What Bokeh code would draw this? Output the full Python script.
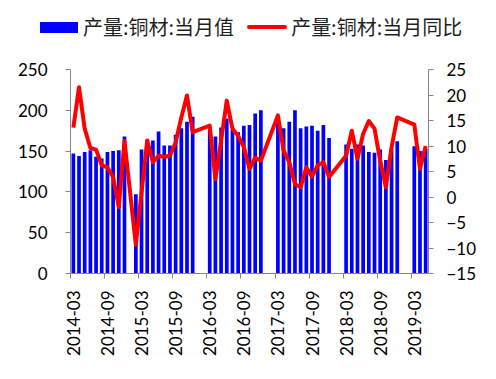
import math
from bokeh.plotting import figure
from bokeh.layouts import column
from bokeh.models import (Range1d, LinearAxis, FixedTicker, ColumnDataSource, Div)
from bokeh.embed import file_html
from bokeh.resources import INLINE

# ---- data ----
months = [
    "2014-03", "2014-04", "2014-05", "2014-06", "2014-07", "2014-08", "2014-09", "2014-10", "2014-11", "2014-12",
    "2015-02", "2015-03", "2015-04", "2015-05", "2015-06", "2015-07", "2015-08", "2015-09", "2015-10", "2015-11", "2015-12",
    "2016-03", "2016-04", "2016-05", "2016-06", "2016-07", "2016-08", "2016-09", "2016-10", "2016-11", "2016-12",
    "2017-03", "2017-04", "2017-05", "2017-06", "2017-07", "2017-08", "2017-09", "2017-10", "2017-11", "2017-12",
    "2018-03", "2018-04", "2018-05", "2018-06", "2018-07", "2018-08", "2018-09", "2018-10", "2018-11", "2018-12",
    "2019-03", "2019-04", "2019-05",
]
output_value = [
    147, 144, 149, 151, 143, 141, 149, 150, 151, 168,
    97, 152, 164, 163, 174, 157, 157, 170, 178, 186, 192,
    176, 168, 179, 190, 176, 173, 181, 182, 196, 200,
    190, 178, 186, 200, 178, 180, 181, 175, 182, 166,
    158, 153, 158, 157, 149, 148, 152, 139, 152, 162,
    156, 150, 153,
]
yoy_value = [
    13.6, 21.5, 13.4, 9.6, 9.3, 6.2, 5.8, 3.9, -2.0, 11.0,
    -9.4, 0.9, 11.1, 6.8, 8.1, 7.9, 8.1, 10.7, 15.6, 19.9, 12.7,
    14.0, 3.5, 11.0, 18.9, 13.4, 12.0, 9.8, 5.5, 7.7, 7.1,
    16.0, 9.1, 6.8, 2.5, 1.9, 5.8, 4.0, 6.2, 6.8, 3.9,
    8.1, 13.0, 7.5, 12.4, 14.9, 13.4, 7.1, 1.9, 9.8, 15.6,
    14.2, 5.5, 10.0,
]
tick_labels = ["2014-03", "2014-09", "2015-03", "2015-09", "2016-03", "2016-09",
               "2017-03", "2017-09", "2018-03", "2018-09", "2019-03"]
first_month = "2014-03"
last_month = "2019-05"
label_bar = "产量:铜材:当月值"
label_line = "产量:铜材:当月同比"


def month_index(m):
    y0, m0 = first_month.split("-")
    y, mo = m.split("-")
    return (int(y) - int(y0)) * 12 + int(mo) - int(m0)


# x measured in half-months: month k spans [2k, 2k+2], centre at 2k+1
x_center = [2 * month_index(m) + 1 for m in months]
n_slots = month_index(last_month) + 1

src = ColumnDataSource(dict(x=x_center, out=output_value, yoy=yoy_value, month=months))

FONT = "Lato"
FS = "17px"
AXC = "#868686"
BLUE = "#0000FF"
RED = "#FF0000"

W = 496
LEG_H = 44

p = figure(width=W, height=331, output_backend="svg", toolbar_location=None,
           x_range=Range1d(0, 2 * n_slots), y_range=Range1d(0, 250),
           min_border_left=70, min_border_right=68, min_border_top=25, min_border_bottom=102,
           x_axis_location=None, y_axis_location=None)
p.extra_y_ranges = {"yoy": Range1d(-15, 25)}
p.outline_line_color = None
p.xgrid.visible = False
p.ygrid.visible = False
p.background_fill_color = "white"
p.border_fill_color = "white"

bars = p.vbar(x="x", top="out", width=1.3, source=src, fill_color=BLUE, line_color=None)
line = p.line(x="x", y="yoy", source=src, y_range_name="yoy", line_color=RED,
              line_width=4, line_join="round")


def style(ax, standoff):
    ax.axis_line_color = AXC
    ax.major_tick_line_color = AXC
    ax.minor_tick_line_color = None
    ax.major_tick_in = 0
    ax.major_tick_out = 5
    ax.major_label_text_font = FONT
    ax.major_label_text_font_size = FS
    ax.major_label_text_color = "black"
    ax.major_label_standoff = standoff


left = LinearAxis(ticker=FixedTicker(ticks=list(range(0, 251, 50))))
style(left, 18)
p.add_layout(left, "left")

right = LinearAxis(y_range_name="yoy", ticker=FixedTicker(ticks=list(range(-15, 26, 5))))
style(right, 13)
p.add_layout(right, "right")

# labels sit at month centres, tick marks at the month boundaries
bound_pos = [2 * month_index(t) for t in tick_labels]
label_pos = [b + 1 for b in bound_pos]
bottom = LinearAxis(ticker=FixedTicker(ticks=label_pos, minor_ticks=bound_pos),
                    major_label_overrides={pos: lab for pos, lab in zip(label_pos, tick_labels)})
style(bottom, 12)
bottom.major_tick_line_color = None
bottom.minor_tick_line_color = AXC
bottom.minor_tick_in = 0
bottom.minor_tick_out = 5
bottom.major_label_orientation = math.pi / 2
p.add_layout(bottom, "below")

# ---- legend strip above the chart (HTML, real text) ----
legend_html = (
    '<div style="box-sizing:border-box;width:%dpx;height:%dpx;padding:10px 0 0 40px;'
    'display:flex;align-items:center;font-family:\'Noto Sans CJK SC\';font-size:20px;'
    'color:#1f1f1f;white-space:nowrap;line-height:1;">'
    '<span style="display:inline-block;width:38px;height:11px;background:%s;margin-right:5px;"></span>'
    '<span>%s</span>'
    '<span style="display:inline-block;width:40px;height:4px;border-radius:2px;background:%s;'
    'margin:0 4px 0 13px;"></span>'
    '<span>%s</span>'
    '</div>'
) % (W, LEG_H, BLUE, label_bar, RED, label_line)
leg = Div(text=legend_html, width=W, height=LEG_H, margin=(0, 0, 0, 0))

layout = column(leg, p, spacing=0)
open("out.html", "w").write(file_html(layout, INLINE))
